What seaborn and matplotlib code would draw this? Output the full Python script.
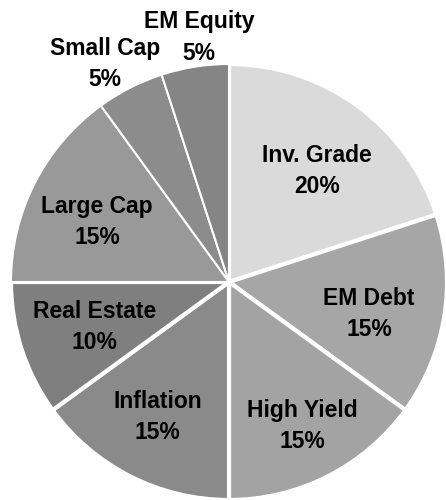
import matplotlib
matplotlib.use("Agg")
import numpy as np
import matplotlib.pyplot as plt
import seaborn as sns

# allocation, clockwise from 12 o'clock
categories = ["Inv. Grade", "EM Debt", "High Yield", "Inflation",
              "Real Estate", "Large Cap", "Small Cap", "EM Equity"]
weights = [20, 15, 15, 15, 10, 15, 5, 5]

# styling (kept apart from the data)
shades = ["#dadada", "#a6a6a6", "#a3a3a3", "#8a8a8a",
          "#7f7f7f", "#999999", "#8c8c8c", "#858585"]
edge_widths = [3.0, 3.0, 3.0, 3.0, 3.0, 1.5, 1.5, 1.5]
label_dist = [0.65, 0.66, 0.74, 0.70, 0.65, 0.665, 1.15, 1.13]
label_shift = [-2.4, -3.9, 0.0, -1.0, 0.4, 2.6, 2.7, -2.0]

sns.set_theme(style="white")
plt.rcParams['font.family'] = ['Liberation Sans', 'DejaVu Sans']

fig = plt.figure(figsize=(4.46, 5.0), dpi=100)
ax = fig.add_axes([0, 0, 1, 1])

wedges, _ = ax.pie(weights, colors=shades, startangle=90, counterclock=False,
                   wedgeprops=dict(edgecolor="white", linewidth=3.0))
for w, lw in zip(wedges, edge_widths):
    w.set_linewidth(lw)

# labels at each wedge's mid angle
for w, name, pct, d, off in zip(wedges, categories, weights, label_dist, label_shift):
    ang = np.deg2rad((w.theta1 + w.theta2) / 2 + off)
    ax.text(d * np.cos(ang), d * np.sin(ang), f"{name}\n{pct}%",
            ha="center", va="center", multialignment="center",
            linespacing=1.45, fontsize=16.5, fontweight="bold", color="black")

# pie centre sits at (229, 282) px with radius ~218 px, cropped bottom/right
ax.set_xlim(-229 / 218, 217 / 218)
ax.set_ylim(-218 / 218, 282 / 218)
ax.set_aspect("equal")
ax.axis("off")

fig.savefig("out.png", dpi=100)
